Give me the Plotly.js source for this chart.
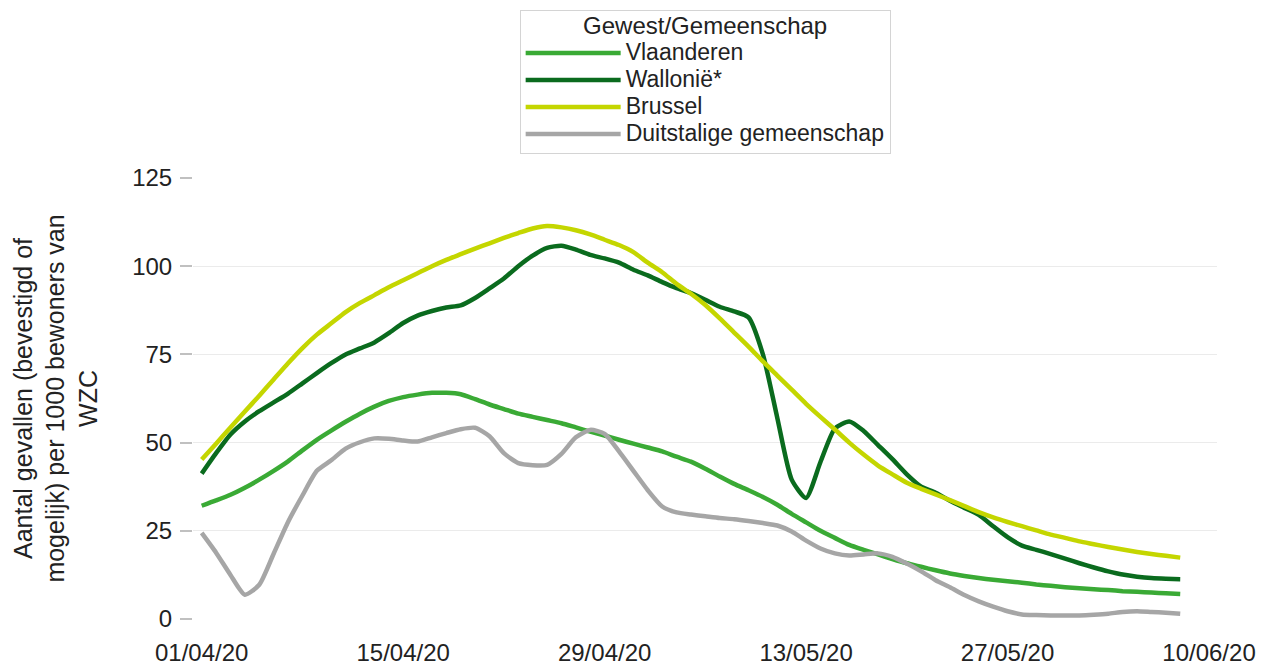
<!DOCTYPE html>
<html>
<head>
<meta charset="utf-8">
<script src="https://cdn.plot.ly/plotly-3.0.1.min.js"></script>
<style>
html,body{margin:0;padding:0;background:#fff;}
#chart{width:1271px;height:665px;}
</style>
</head>
<body>
<div id="chart"></div>
<script>
var dates = [
"2020-04-01","2020-04-02","2020-04-03","2020-04-04","2020-04-05","2020-04-06","2020-04-07","2020-04-08","2020-04-09","2020-04-10",
"2020-04-11","2020-04-12","2020-04-13","2020-04-14","2020-04-15","2020-04-16","2020-04-17","2020-04-18","2020-04-19","2020-04-20",
"2020-04-21","2020-04-22","2020-04-23","2020-04-24","2020-04-25","2020-04-26","2020-04-27","2020-04-28","2020-04-29","2020-04-30",
"2020-05-01","2020-05-02","2020-05-03","2020-05-04","2020-05-05","2020-05-06","2020-05-07","2020-05-08","2020-05-09","2020-05-10",
"2020-05-11","2020-05-12","2020-05-13","2020-05-14","2020-05-15","2020-05-16","2020-05-17","2020-05-18","2020-05-19","2020-05-20",
"2020-05-21","2020-05-22","2020-05-23","2020-05-24","2020-05-25","2020-05-26","2020-05-27","2020-05-28","2020-05-29","2020-05-30",
"2020-05-31","2020-06-01","2020-06-02","2020-06-03","2020-06-04","2020-06-05","2020-06-06","2020-06-07","2020-06-08"
];

var vlaanderen = [
32.1,33.6,35.2,37.2,39.5,42,44.7,47.8,50.8,53.4,55.9,58.2,60.2,61.8,62.9,63.6,64.1,
64.1,63.7,62.3,60.8,59.5,58.2,57.3,56.4,55.5,54.3,53.1,52,50.8,49.7,48.6,47.5,46,
44.6,42.6,40.4,38.3,36.5,34.6,32.4,29.8,27.4,25,23,21,19.6,18.3,17,15.8,14.8,
13.8,12.9,12.2,11.6,11.1,10.7,10.3,9.8,9.4,9,8.7,8.4,8.2,7.9,7.7,7.5,7.3,7.1
];

var wallonie = [
41.2,47,52.3,56,58.9,61.4,63.9,66.8,69.7,72.5,75,76.7,78.4,81,83.9,86,87.3,
88.3,88.9,91,93.7,96.5,100,103,105.2,105.8,104.7,103.2,102.2,101,99,97.4,95.5,93.8,
92.4,90.5,88.5,87.2,85.5,75,57,39.5,34.3,44.5,54,56,53.3,49.3,45.3,41,37.5,
35.8,33.5,31.5,29.5,26.3,23.2,20.8,19.6,18.4,17.1,15.8,14.6,13.5,12.6,12,11.6,11.4,11.3
];

var brussel = [
45.2,49.7,54.3,58.8,63.3,67.9,72.5,76.8,80.6,83.8,87,89.6,91.8,94,96,98,100,
101.8,103.4,105,106.5,108,109.4,110.7,111.4,111,110.2,109,107.5,106,104,101,98.3,95,
92.2,89,85.2,81.2,77.2,73,69,65,61,57.3,53.7,50,46.6,43.5,41,38.6,36.9,
35.3,33.7,32,30.3,28.8,27.5,26.3,25.1,23.9,23,22,21.2,20.4,19.7,19,18.4,17.9,17.4
];

var duitstalig = [
24.4,18.8,12.5,6.9,9.7,18.5,27.5,35,42,45,48.3,50.1,51.2,51.1,50.6,50.3,51.5,
52.7,53.8,54.2,51.8,47,44.2,43.6,43.7,46.8,51.5,53.6,52.5,47.5,42,36.5,31.9,30.2,
29.6,29.1,28.6,28.3,27.8,27.2,26.5,24.8,22.2,20,18.6,18,18.3,18.6,17.6,15.7,13.5,
11,9,6.8,5,3.5,2.2,1.3,1.1,1,1,1,1.2,1.5,2,2.2,2,1.8,1.5
];

var seriesNames = ["Vlaanderen","Wallonië*","Brussel","Duitstalige gemeenschap"];
var seriesColors = ["#3aaa35","#0a6b1e","#c4d600","#a6a6a6"];
var seriesValues = [vlaanderen, wallonie, brussel, duitstalig];
var legendTitle = "Gewest/Gemeenschap";

var xTickVals = ["2020-04-01","2020-04-15","2020-04-29","2020-05-13","2020-05-27","2020-06-10"];
var xTickText = ["01/04/20","15/04/20","29/04/20","13/05/20","27/05/20","10/06/20"];
var yTickVals = [0,25,50,75,100,125];

var traces = seriesNames.map(function(n,i){
  return {
    type:"scatter", mode:"lines",
    name:'<span style="font-size:23px">' + n + '</span>',
    x:dates, y:seriesValues[i],
    line:{color:seriesColors[i], width:4.5, shape:"spline", smoothing:0.6},
    hovertemplate: n + ": %{y}<extra></extra>"
  };
});

var font = "'Liberation Sans', Arial, sans-serif";

var layout = {
  width:1271, height:665,
  margin:{l:193, r:54, t:178, b:46, autoexpand:false},
  paper_bgcolor:"#ffffff", plot_bgcolor:"#ffffff",
  font:{family:font, color:"#222222", size:24},
  showlegend:true,
  legend:{
    x:0.319, y:1.381, xanchor:"left", yanchor:"top",
    bgcolor:"#ffffff", bordercolor:"#d4d4d4", borderwidth:1,
    font:{family:font, size:18.5, color:"#222222"},
    title:{text:'<span style="font-size:24px">' + legendTitle + '</span>', side:"top center",
           font:{family:font, size:18, color:"#222222"}},
    itemwidth:95, tracegroupgap:0
  },
  xaxis:{
    type:"date",
    range:["2020-03-31 09:30","2020-06-10 13:20"],
    tickvals:xTickVals, ticktext:xTickText,
    showgrid:false, zeroline:false, showline:false, ticks:"",
    tickfont:{family:font, size:24, color:"#222222"},
    ticklabelstandoff:17
  },
  yaxis:{
    range:[0,125], tickvals:yTickVals,
    showgrid:true, gridcolor:"#ebebeb", gridwidth:1,
    zeroline:false, showline:false,
    ticks:"outside", ticklen:12, tickcolor:"#c0c0c0", tickwidth:1.5,
    tickfont:{family:font, size:24, color:"#222222"},
    ticklabelstandoff:3,
    title:{text:"Aantal gevallen (bevestigd of<br>mogelijk) per 1000 bewoners van<br>WZC",
           font:{family:font, size:25, color:"#222222"}, standoff:27}
  }
};

Plotly.newPlot("chart", traces, layout, {displayModeBar:false, responsive:false});
</script>
</body>
</html>
